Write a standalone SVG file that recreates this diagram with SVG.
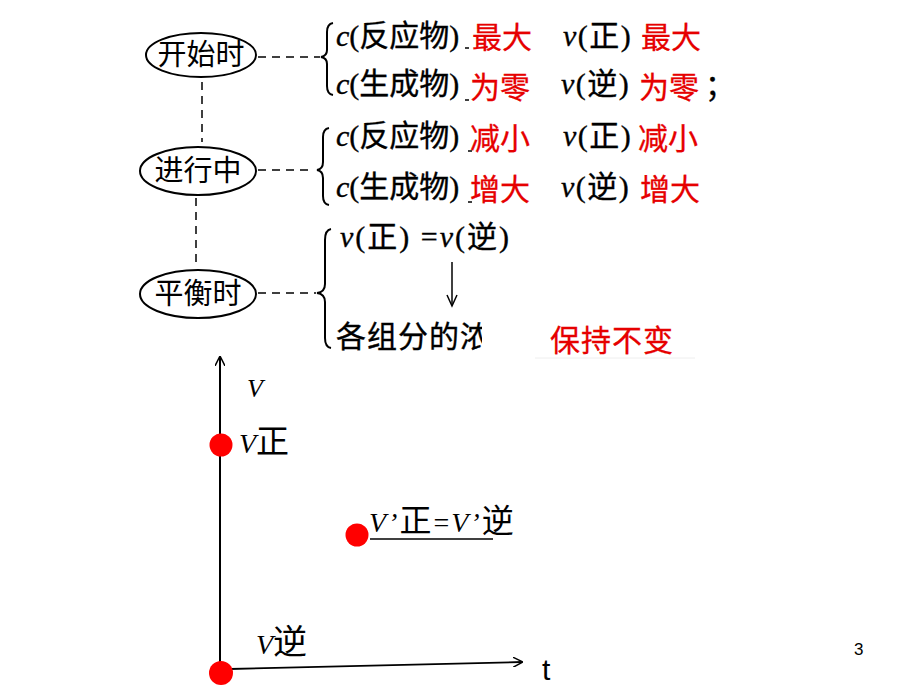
<svg xmlns="http://www.w3.org/2000/svg" width="920" height="690" viewBox="0 0 920 690">
<style>
.t{font-family:"Liberation Serif","Noto Sans CJK SC",serif;font-size:30px;fill:#000;stroke:#000;stroke-width:0.35}
.i{font-style:italic}
.r{font-family:"Noto Sans CJK SC",sans-serif;font-size:30px;fill:#e60000;stroke:#e60000;stroke-width:0.3}
.cj{font-family:"Noto Sans CJK SC",sans-serif;font-size:29px;fill:#000}
.el{fill:#fff;stroke:#000;stroke-width:2}
.dash{stroke:#000;stroke-width:1.5;stroke-dasharray:8 6;fill:none}
.br{stroke:#000;stroke-width:2;fill:none}
.ln{stroke:#000;stroke-width:2;fill:none}
.dot{fill:#f00}
</style>
<defs>
<marker id="ah" viewBox="0 0 10 10" refX="9" refY="5" markerWidth="10" markerHeight="10" markerUnits="userSpaceOnUse" orient="auto">
<path d="M0,0 L10,5 L0,10" fill="none" stroke="#000" stroke-width="1.5"/>
</marker>
<clipPath id="clipc"><rect x="320" y="310" width="162" height="50"/></clipPath>
</defs>

<g id="connectors">
<line class="dash" x1="258" y1="57" x2="320" y2="57"/>
<line class="dash" x1="202" y1="82" x2="202" y2="142"/>
<line class="dash" x1="258" y1="170" x2="312" y2="170"/>
<line class="dash" x1="196" y1="198" x2="196" y2="264"/>
<line class="dash" x1="258" y1="293" x2="316" y2="293"/>
<line x1="452" y1="262" x2="452" y2="305" stroke="#000" stroke-width="1.5"/>
<path d="M447,295 L452,306 L457,295" fill="none" stroke="#000" stroke-width="1.5"/>
</g>

<g id="node-start">
<ellipse class="el" cx="201" cy="55" rx="55" ry="22"/>
<text class="cj" x="201" y="65" text-anchor="middle">开始时</text>
</g>
<g id="node-progress">
<ellipse class="el" cx="198" cy="171" rx="58" ry="24"/>
<text class="cj" x="198" y="181" text-anchor="middle">进行中</text>
</g>
<g id="node-balance">
<ellipse class="el" cx="198" cy="294" rx="58" ry="24"/>
<text class="cj" x="198" y="304" text-anchor="middle">平衡时</text>
</g>

<g id="brace-start">
<path class="br" d="M333,23 Q327,24 327,32 L327,50 Q327,56 321,57 Q327,58 327,64 L327,86 Q327,94 333,95"/>
<text class="t" x="336" y="46"><tspan class="i">c</tspan>(反应物)</text>
<text class="r" x="472" y="48">最大</text>
<text class="t" x="563" y="46" letter-spacing="1.5"><tspan class="i">v</tspan>(正)</text>
<text class="r" x="641" y="48">最大</text>
<text class="t" x="336" y="94"><tspan class="i">c</tspan>(生成物)</text>
<text class="r" x="470" y="98">为零</text>
<text class="t" x="561" y="94" letter-spacing="1.5"><tspan class="i">v</tspan>(逆)</text>
<text class="r" x="639" y="98">为零</text>
<text class="t" x="705" y="96">；</text>
<line x1="465" y1="48" x2="469" y2="48" stroke="#000" stroke-width="1.5"/>
<line x1="465" y1="100" x2="469" y2="100" stroke="#000" stroke-width="1.5"/>
</g>

<g id="brace-progress">
<path class="br" d="M329,128 Q323,129 323,137 L323,162 Q323,169 317,170 Q323,171 323,178 L323,196 Q323,204 329,205"/>
<text class="t" x="336" y="146"><tspan class="i">c</tspan>(反应物)</text>
<text class="r" x="470" y="149">减小</text>
<text class="t" x="563" y="146" letter-spacing="1.5"><tspan class="i">v</tspan>(正)</text>
<text class="r" x="638" y="149">减小</text>
<text class="t" x="336" y="197"><tspan class="i">c</tspan>(生成物)</text>
<text class="r" x="470" y="200">增大</text>
<text class="t" x="561" y="197" letter-spacing="1.5"><tspan class="i">v</tspan>(逆)</text>
<text class="r" x="640" y="200">增大</text>
<line x1="468" y1="151" x2="472" y2="151" stroke="#000" stroke-width="1.5"/>
<line x1="468" y1="202" x2="472" y2="202" stroke="#000" stroke-width="1.5"/>
</g>

<g id="brace-balance">
<path class="br" d="M331,229 Q325,230 325,240 L325,284 Q325,292 317,293 Q325,294 325,302 L325,338 Q325,347 331,348"/>
<text class="t" x="340" y="247" letter-spacing="2"><tspan class="i">v</tspan>(正) =<tspan class="i">v</tspan>(逆)</text>
<text class="t" x="336" y="347" clip-path="url(#clipc)" letter-spacing="1" font-size="31">各组分的浓</text>
<line x1="535" y1="358" x2="695" y2="358" stroke="#eee" stroke-width="1"/>
<text class="r" x="550" y="351" font-size="33" letter-spacing="1">保持不变</text>
</g>

<g id="graph">
<line class="ln" x1="220" y1="672" x2="220" y2="357" marker-end="url(#ah)"/>
<line x1="230" y1="669" x2="522" y2="662" stroke="#000" stroke-width="1.8" marker-end="url(#ah)"/>
<text x="542" y="680" font-family="Liberation Sans,sans-serif" font-size="30">t</text>
<text x="247" y="397" font-family="Liberation Serif,serif" font-style="italic" font-size="26">V</text>
<circle class="dot" cx="221" cy="445" r="11.5"/>
<text x="239" y="453"><tspan font-family="Liberation Serif,serif" font-style="italic" font-size="28">V</tspan><tspan font-family="Noto Sans CJK SC,sans-serif" font-size="33">正</tspan></text>
<circle class="dot" cx="357" cy="535" r="11.5"/>
<text x="369" y="532" letter-spacing="2"><tspan font-family="Liberation Serif,serif" font-style="italic" font-size="28">V’</tspan><tspan font-family="Noto Sans CJK SC,sans-serif" font-size="32">正</tspan><tspan font-family="Liberation Serif,serif" font-size="28">=</tspan><tspan font-family="Liberation Serif,serif" font-style="italic" font-size="28">V’</tspan><tspan font-family="Noto Sans CJK SC,sans-serif" font-size="32">逆</tspan></text>
<line x1="370" y1="539" x2="493" y2="539" stroke="#000" stroke-width="1.5"/>
<text x="256" y="654"><tspan font-family="Liberation Serif,serif" font-style="italic" font-size="28">V</tspan><tspan font-family="Noto Sans CJK SC,sans-serif" font-size="34">逆</tspan></text>
<circle class="dot" cx="221" cy="673" r="12"/>
</g>

<text x="854" y="655" font-family="Liberation Sans,sans-serif" font-size="17">3</text>
</svg>
